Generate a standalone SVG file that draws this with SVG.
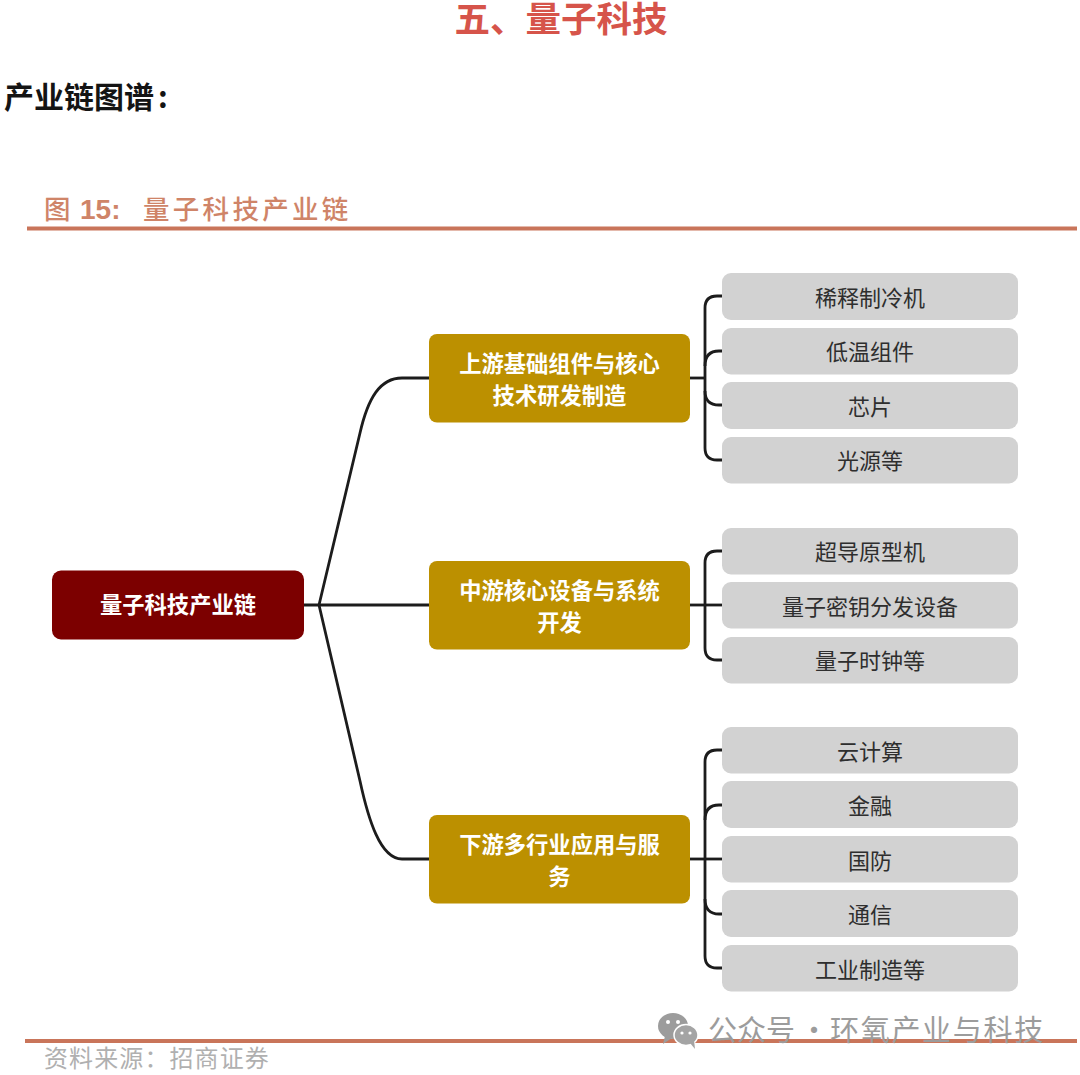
<svg xmlns="http://www.w3.org/2000/svg" width="1080" height="1075" viewBox="0 0 1080 1075">
<style>
text{font-family:"Noto Sans CJK SC","Liberation Sans",sans-serif}
.c{text-anchor:middle}
.leaf rect{fill:#d2d2d2}
.leaf text{font-size:22px;fill:#2e2e2e;text-anchor:middle}
.mid rect{fill:#bc9000}
.mid text{font-size:22.3px;font-weight:700;fill:#fff;text-anchor:middle}
.con path{fill:none;stroke:#1c1c1c;stroke-width:2.8}
.rule{fill:#c9755a}
</style>
<rect width="1080" height="1075" fill="#fff"/>
<text x="561" y="32" class="c" font-size="35.500" font-weight="700" fill="#d6544a">五、量子科技</text>
<text x="4" y="108" font-size="30" font-weight="700" fill="#141414">产业链图谱<tspan dx="4">:</tspan></text>
<g id="caption" fill="#cf8468">
<text x="44" y="219" font-size="26.500" font-weight="500">图</text>
<text x="80" y="219" font-size="28" font-weight="700" style="font-family:'Liberation Sans',sans-serif">15:</text>
<text x="143" y="219" font-size="26.500" font-weight="500" letter-spacing="3.300">量子科技产业链</text>
</g>
<rect class="rule" x="27" y="226.500" width="1050" height="4"/>
<g id="connectors" class="con">
<path d="M304 605H429"/>
<path d="M319 605L360 433C368 398 380 378 402 378H429"/>
<path d="M319 605L360 781C368 818 380 859 402 859H429"/>
<path d="M690 378H705"/>
<path d="M722 296H717Q705 296 705 308V448Q705 460 717 460H722"/>
<path d="M722 351H719Q705 351 705 366"/>
<path d="M722 405H719Q705 405 705 391"/>
<path d="M690 605H722"/>
<path d="M722 551H717Q705 551 705 563V648Q705 660 717 660H722"/>
<path d="M690 859H722"/>
<path d="M722 750H717Q705 750 705 762V956Q705 968 717 968H722"/>
<path d="M722 805H719Q705 805 705 820"/>
<path d="M722 914H719Q705 914 705 899"/>
</g>
<g id="root"><rect x="52" y="570.500" width="252" height="69" rx="9" fill="#7c0000"/><text x="178" y="613" class="c" font-size="22.300" font-weight="700" fill="#fff">量子科技产业链</text></g>
<g id="up" class="mid"><rect x="429" y="334" width="261" height="88.500" rx="8"/><text x="559.500" y="372">上游基础组件与核心</text><text x="559.500" y="404">技术研发制造</text></g>
<g id="midstream" class="mid"><rect x="429" y="561" width="261" height="88.500" rx="8"/><text x="559.500" y="599">中游核心设备与系统</text><text x="559.500" y="631">开发</text></g>
<g id="down" class="mid"><rect x="429" y="815" width="261" height="88.500" rx="8"/><text x="559.500" y="853">下游多行业应用与服</text><text x="559.500" y="885">务</text></g>
<g id="l1" class="leaf"><rect x="722" y="273" width="296" height="47" rx="9"/><text x="870" y="306">稀释制冷机</text></g>
<g id="l2" class="leaf"><rect x="722" y="328" width="296" height="46.500" rx="9"/><text x="870" y="360">低温组件</text></g>
<g id="l3" class="leaf"><rect x="722" y="382" width="296" height="47" rx="9"/><text x="870" y="415">芯片</text></g>
<g id="l4" class="leaf"><rect x="722" y="437" width="296" height="46.500" rx="9"/><text x="870" y="469">光源等</text></g>
<g id="l5" class="leaf"><rect x="722" y="528" width="296" height="46.500" rx="9"/><text x="870" y="560">超导原型机</text></g>
<g id="l6" class="leaf"><rect x="722" y="582" width="296" height="46.500" rx="9"/><text x="870" y="615">量子密钥分发设备</text></g>
<g id="l7" class="leaf"><rect x="722" y="637" width="296" height="46.500" rx="9"/><text x="870" y="669">量子时钟等</text></g>
<g id="l8" class="leaf"><rect x="722" y="727" width="296" height="46.500" rx="9"/><text x="870" y="760">云计算</text></g>
<g id="l9" class="leaf"><rect x="722" y="781" width="296" height="47" rx="9"/><text x="870" y="814">金融</text></g>
<g id="l10" class="leaf"><rect x="722" y="836" width="296" height="46.500" rx="9"/><text x="870" y="869">国防</text></g>
<g id="l11" class="leaf"><rect x="722" y="890" width="296" height="47" rx="9"/><text x="870" y="923">通信</text></g>
<g id="l12" class="leaf"><rect x="722" y="945" width="296" height="46.500" rx="9"/><text x="870" y="978">工业制造等</text></g>
<rect class="rule" x="25" y="1039" width="1052" height="4"/>
<text x="44" y="1067" font-size="24" letter-spacing="1.100" fill="#b0b0b0">资料来源&#xFF1A;招商证券</text>
<g id="watermark" fill="#9c9c9c">
<ellipse cx="673" cy="1026" rx="15" ry="13"/>
<path d="M665 1036L663 1044L672 1038Z"/>
<ellipse cx="686" cy="1035" rx="12" ry="10.500" fill="#a4a4a4" stroke="#fff" stroke-width="1.500"/>
<path d="M690 1043L695 1049L694 1040Z" fill="#a4a4a4"/>
<circle cx="668" cy="1022" r="2" fill="#fff"/><circle cx="678" cy="1022" r="2" fill="#fff"/>
<circle cx="682" cy="1033" r="1.600" fill="#fff"/><circle cx="690" cy="1033" r="1.600" fill="#fff"/>
<text x="708" y="1041" font-size="29">公众号</text>
<text x="814" y="1041" font-size="29" class="c">·</text>
<text x="830" y="1041" font-size="29" letter-spacing="1.700">环氧产业与科技</text>
</g>
</svg>
